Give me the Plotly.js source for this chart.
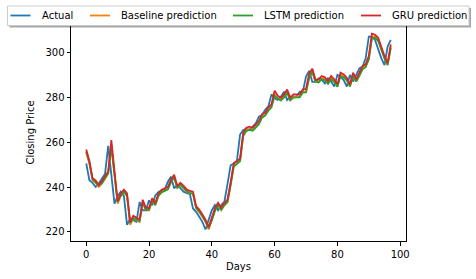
<!DOCTYPE html>
<html>
<head>
<meta charset="utf-8">
<script src="https://cdn.plot.ly/plotly-3.0.1.min.js"></script>
<style>html,body{margin:0;padding:0;background:#fff;}#chart{width:476px;height:279px;}</style>
</head>
<body>
<div id="chart"></div>
<script>
// Days 0..97
const days = Array.from({length: 98}, (_, i) => i);

const actual = [
  250.6, 243.1, 241.9, 240.1, 241.6, 243.8, 246.0, 258.4, 245.0, 232.7,
  236.0, 238.0, 236.0, 223.2, 226.0, 225.3, 224.5, 233.4, 229.7, 229.7,
  234.1, 231.9, 236.3, 237.8, 238.5, 239.0, 242.4, 244.6, 239.5, 241.0,
  239.6, 238.0, 237.3, 237.0, 230.5, 229.0, 226.8, 224.5, 221.1, 225.3,
  229.7, 232.0, 229.7, 232.0, 233.5, 241.5, 249.8, 250.6, 251.8, 263.5,
  265.5, 266.0, 265.5, 267.0, 268.5, 271.5, 272.2, 274.5, 276.0, 281.4,
  279.7, 278.9, 280.4, 282.6, 278.9, 280.4, 280.4, 280.4, 282.6, 282.6,
  289.3, 291.9, 287.0, 287.0, 288.6, 288.0, 286.3, 288.6, 287.1, 284.9,
  290.1, 289.3, 287.8, 284.9, 290.1, 287.1, 290.1, 293.0, 293.8, 297.5,
  307.2, 307.2, 305.7, 301.2, 297.5, 294.5, 302.7, 305.7
];

const baseline = [
  255.5, 250.6, 243.1, 241.9, 240.1, 241.6, 243.8, 246.0, 258.4, 245.0,
  232.7, 236.0, 238.0, 236.0, 223.2, 226.0, 225.3, 224.5, 233.4, 229.7,
  229.7, 234.1, 231.9, 236.3, 237.8, 238.5, 239.0, 242.4, 244.6, 239.5,
  241.0, 239.6, 238.0, 237.3, 237.0, 230.5, 229.0, 226.8, 224.5, 221.1,
  225.3, 229.7, 232.0, 229.7, 232.0, 233.5, 241.5, 249.8, 250.6, 251.8,
  263.5, 265.5, 266.0, 265.5, 267.0, 268.5, 271.5, 272.2, 274.5, 276.0,
  281.4, 279.7, 278.9, 280.4, 282.6, 278.9, 280.4, 280.4, 280.4, 282.6,
  282.6, 289.3, 291.9, 287.0, 287.0, 288.6, 288.0, 286.3, 288.6, 287.1,
  284.9, 290.1, 289.3, 287.8, 284.9, 290.1, 287.1, 290.1, 293.0, 293.8,
  297.5, 307.2, 307.2, 305.7, 301.2, 297.5, 294.5, 302.7
];

const lstm = [
  255.8, 251.0, 243.6, 242.2, 240.6, 241.8, 243.9, 246.2, 258.0, 245.4,
  233.4, 236.2, 237.9, 236.1, 224.0, 226.2, 225.6, 224.9, 233.0, 229.9,
  229.9, 233.9, 232.1, 236.1, 237.7, 238.4, 239.0, 242.2, 244.3, 239.8,
  241.0, 239.7, 238.2, 237.4, 237.0, 231.0, 229.3, 227.1, 224.8, 221.7,
  225.2, 229.4, 231.8, 229.9, 231.9, 233.4, 240.8, 249.2, 250.4, 251.6,
  262.8, 265.0, 265.6, 265.2, 266.6, 268.1, 271.0, 271.9, 274.1, 275.6,
  280.7, 279.5, 278.6, 280.0, 282.1, 278.8, 280.0, 280.1, 280.1, 282.2,
  282.3, 288.7, 291.4, 287.1, 286.7, 288.1, 287.7, 286.1, 288.1, 286.9,
  284.8, 289.5, 289.0, 287.6, 285.0, 289.6, 287.2, 289.7, 292.6, 293.5,
  297.0, 306.4, 306.7, 305.2, 301.1, 297.6, 294.6, 302.1
];

const gru = [
  256.8, 251.8, 244.0, 243.0, 241.0, 242.6, 245.0, 247.0, 261.0, 246.0,
  233.6, 237.2, 238.9, 237.2, 224.4, 227.2, 226.4, 225.6, 234.4, 230.8,
  230.7, 235.0, 232.9, 237.2, 238.8, 239.5, 240.0, 243.4, 245.5, 240.5,
  242.0, 240.6, 239.0, 238.3, 238.0, 231.5, 230.0, 227.8, 225.5, 222.2,
  226.2, 230.6, 233.0, 230.8, 233.0, 234.5, 242.2, 250.8, 251.6, 252.8,
  264.4, 266.5, 267.0, 266.5, 268.0, 269.5, 272.5, 273.2, 275.5, 277.0,
  283.0, 280.8, 279.9, 281.4, 283.6, 279.9, 281.4, 281.4, 281.4, 283.6,
  283.8, 290.6, 292.9, 288.0, 288.0, 289.6, 289.0, 287.3, 289.6, 288.1,
  285.9, 291.1, 290.3, 288.8, 285.9, 291.1, 288.1, 291.1, 294.0, 294.8,
  298.5, 308.5, 308.0, 306.7, 302.2, 298.5, 295.5, 303.7
];

const seriesNames = ['Actual', 'Baseline prediction', 'LSTM prediction', 'GRU prediction'];
const seriesColors = ['#1f77b4', '#ff7f0e', '#2ca02c', '#d62728'];
const seriesValues = [actual, baseline, lstm, gru];

const W = 476, H = 279;
const M = {l: 71, r: 70, t: 24, b: 38};
const plotW = W - M.l - M.r, plotH = H - M.t - M.b;
// pixel -> paper coordinates (for the legend box drawn outside the plot area)
const px = x => (x - M.l) / plotW;
const py = y => (H - M.b - y) / plotH;

const traces = seriesValues.map((vals, i) => ({
  x: days,
  y: vals,
  type: 'scatter',
  mode: 'lines',
  name: seriesNames[i],
  line: {color: seriesColors[i], width: 1.8},
  showlegend: false
}));

// Legend layout (matplotlib-style, single row, upper center)
const legendBox = {x0: 7.5, x1: 469, y0: 6, y1: 25.5};
const legendTextX = [39.5, 119, 262, 390];
const legendRowY = 15.5;

const shapes = [
  {type: 'rect', xref: 'paper', yref: 'paper', layer: 'above',
   x0: px(legendBox.x0 + 2), x1: px(legendBox.x1 + 2), y0: py(legendBox.y0 + 2), y1: py(legendBox.y1 + 2),
   fillcolor: 'rgba(0,0,0,0.35)', line: {width: 0}},
  {type: 'rect', xref: 'paper', yref: 'paper', layer: 'above',
   x0: px(legendBox.x0), x1: px(legendBox.x1), y0: py(legendBox.y0), y1: py(legendBox.y1),
   fillcolor: '#fff', line: {color: '#cccccc', width: 1}}
];
const annotations = [];
seriesNames.forEach((name, i) => {
  const tx = legendTextX[i];
  shapes.push({type: 'line', xref: 'paper', yref: 'paper', layer: 'above',
    x0: px(tx - 29), x1: px(tx - 9), y0: py(legendRowY), y1: py(legendRowY),
    line: {color: seriesColors[i], width: 1.8}});
  annotations.push({xref: 'paper', yref: 'paper', x: px(tx), y: py(legendRowY),
    xanchor: 'left', yanchor: 'middle', showarrow: false, text: name,
    font: {family: 'DejaVu Sans', size: 10, color: '#000'}});
});

const axisCommon = {
  showgrid: false,
  zeroline: false,
  showline: true,
  linecolor: '#000',
  linewidth: 1,
  mirror: true,
  ticks: 'outside',
  ticklen: 3.5,
  tickwidth: 1,
  tickcolor: '#000',
  tickfont: {family: 'DejaVu Sans', size: 10, color: '#000'}
};

const layout = {
  width: W,
  height: H,
  margin: {l: M.l, r: M.r, t: M.t, b: M.b, pad: 0},
  paper_bgcolor: '#fff',
  plot_bgcolor: '#fff',
  font: {family: 'DejaVu Sans', size: 10, color: '#000'},
  showlegend: false,
  shapes: shapes,
  annotations: annotations,
  xaxis: Object.assign({}, axisCommon, {
    range: [-4.85, 101.85],
    tickvals: [0, 20, 40, 60, 80, 100],
    title: {text: 'Days', font: {family: 'DejaVu Sans', size: 10, color: '#000'}, standoff: 4}
  }),
  yaxis: Object.assign({}, axisCommon, {
    range: [215.98, 312.8],
    tickvals: [220, 240, 260, 280, 300],
    title: {text: 'Closing Price', font: {family: 'DejaVu Sans', size: 10, color: '#000'}, standoff: 8}
  })
};

Plotly.newPlot('chart', traces, layout, {displayModeBar: false, staticPlot: true});
</script>
</body>
</html>
